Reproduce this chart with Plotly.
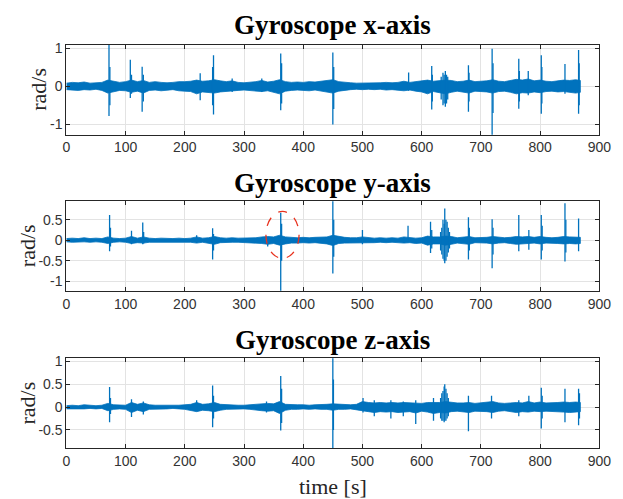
import plotly.graph_objects as go

# ---------------- data ----------------
env_t = list(range(0, 870, 10)) + [868]

gx_hi = [0.08,0.10,0.09,0.11,0.08,0.09,0.10,0.16,0.12,0.10,
         0.12,0.16,0.12,0.15,0.10,0.12,0.10,0.09,0.10,0.12,
         0.12,0.13,0.16,0.13,0.14,0.17,0.14,0.12,0.14,0.10,
         0.09,0.10,0.12,0.15,0.11,0.13,0.17,0.12,0.10,0.11,
         0.10,0.12,0.11,0.13,0.14,0.17,0.12,0.10,0.09,0.08,
         0.08,0.09,0.08,0.09,0.10,0.09,0.10,0.13,0.10,0.12,
         0.14,0.16,0.13,0.15,0.16,0.15,0.12,0.13,0.16,0.12,
         0.13,0.14,0.17,0.13,0.12,0.15,0.18,0.16,0.19,0.14,
         0.16,0.13,0.12,0.14,0.16,0.15,0.17,0.15]
gx_lo = [-0.09,-0.10,-0.11,-0.09,-0.10,-0.08,-0.11,-0.18,-0.14,-0.11,
         -0.12,-0.16,-0.13,-0.18,-0.11,-0.10,-0.12,-0.10,-0.09,-0.12,
         -0.13,-0.14,-0.20,-0.15,-0.16,-0.18,-0.15,-0.13,-0.12,-0.11,
         -0.10,-0.11,-0.13,-0.14,-0.12,-0.15,-0.20,-0.13,-0.11,-0.10,
         -0.11,-0.12,-0.10,-0.12,-0.15,-0.18,-0.13,-0.10,-0.09,-0.08,
         -0.09,-0.08,-0.09,-0.08,-0.10,-0.09,-0.11,-0.12,-0.10,-0.13,
         -0.15,-0.20,-0.14,-0.17,-0.20,-0.16,-0.13,-0.15,-0.18,-0.13,
         -0.14,-0.15,-0.18,-0.14,-0.13,-0.16,-0.20,-0.17,-0.18,-0.15,
         -0.17,-0.14,-0.13,-0.15,-0.14,-0.16,-0.18,-0.16]
gx_spike_t = [72, 73.5, 108, 110, 128, 130, 226, 247, 248.5, 280, 330, 362, 363.5, 450, 451.5, 578, 617, 618,
              633, 636, 638, 640, 642, 644,
              679, 680, 719, 720.5, 764, 765, 780, 802, 803, 842, 865, 866]
gx_spike_hi = [1.15, 0.5, 0.69, 0.3, 0.51, 0.3, 0.34, 0.5, 0.81, 0.2, 0.2, 0.86, 0.6, 0.88, 0.5, 0.36, 0.53, 0.3,
               0.25, 0.35, 0.3, 0.4, 0.3, 0.25,
               0.55, 0.35, 0.98, 0.6, 0.72, 0.4, 0.4, 0.81, 0.5, 0.58, 0.95, 0.6]
gx_spike_lo = [-0.78, -0.5, -0.31, -0.2, -0.67, -0.4, -0.37, -0.5, -0.74, -0.15, -0.15, -0.63, -0.45, -1.0, -0.6, -0.12, -0.61, -0.4,
               -0.35, -0.5, -0.45, -0.54, -0.45, -0.35,
               -0.67, -0.4, -1.3, -0.7, -0.59, -0.4, -0.24, -0.72, -0.45, -0.2, -0.72, -0.5]

gy_hi = [0.04,0.05,0.04,0.06,0.04,0.05,0.04,0.08,0.05,0.04,
         0.05,0.09,0.05,0.08,0.05,0.04,0.05,0.04,0.04,0.05,
         0.04,0.05,0.08,0.05,0.06,0.09,0.06,0.05,0.06,0.05,
         0.05,0.06,0.06,0.08,0.09,0.08,0.12,0.08,0.07,0.06,
         0.07,0.06,0.07,0.08,0.08,0.12,0.09,0.07,0.06,0.06,
         0.08,0.06,0.05,0.06,0.05,0.06,0.05,0.08,0.06,0.05,
         0.06,0.10,0.08,0.08,0.10,0.09,0.06,0.07,0.09,0.06,
         0.06,0.07,0.09,0.07,0.06,0.07,0.09,0.08,0.09,0.07,
         0.09,0.07,0.06,0.07,0.09,0.08,0.08,0.07]
gy_lo = [-0.04,-0.05,-0.05,-0.04,-0.05,-0.04,-0.05,-0.08,-0.05,-0.04,
         -0.05,-0.08,-0.06,-0.07,-0.05,-0.04,-0.04,-0.05,-0.04,-0.05,
         -0.05,-0.05,-0.07,-0.05,-0.07,-0.10,-0.06,-0.05,-0.05,-0.05,
         -0.05,-0.06,-0.07,-0.08,-0.10,-0.08,-0.12,-0.09,-0.07,-0.07,
         -0.06,-0.07,-0.06,-0.07,-0.09,-0.13,-0.08,-0.07,-0.06,-0.07,
         -0.07,-0.06,-0.06,-0.05,-0.06,-0.05,-0.06,-0.07,-0.06,-0.08,
         -0.07,-0.12,-0.09,-0.09,-0.12,-0.10,-0.07,-0.08,-0.10,-0.06,
         -0.07,-0.07,-0.09,-0.07,-0.06,-0.08,-0.10,-0.09,-0.08,-0.07,
         -0.09,-0.07,-0.07,-0.08,-0.09,-0.08,-0.09,-0.08]
gy_spike_t = [73, 74.5, 110, 129, 130.5, 220, 247, 248.5, 340, 362, 363.5, 450, 451.5, 500, 577, 615, 617,
              632, 634, 636, 638, 639, 641, 643, 645, 647,
              679, 680.5, 719, 720.5, 764, 781, 802, 803.5, 842, 843.5, 865]
gy_spike_hi = [0.61, 0.3, 0.23, 0.43, 0.2, 0.12, 0.29, 0.15, 0.08, 0.67, 0.4, 0.95, 0.5, 0.25, 0.35, 0.45, 0.25,
               0.2, 0.3, 0.5, 0.4, 0.77, 0.5, 0.45, 0.3, 0.2,
               0.56, 0.3, 0.51, 0.3, 0.61, 0.25, 0.61, 0.35, 0.9, 0.5, 0.53]
gy_spike_lo = [-0.27, -0.15, -0.1, -0.1, -0.08, -0.06, -0.47, -0.25, -0.15, -1.3, -0.5, -0.81, -0.4, -0.1, -0.05, -0.31, -0.2,
               -0.25, -0.35, -0.45, -0.5, -0.56, -0.5, -0.4, -0.3, -0.2,
               -0.47, -0.25, -0.68, -0.35, -0.27, -0.23, -0.47, -0.25, -0.52, -0.3, -0.27]

gz_hi = [0.03,0.04,0.03,0.05,0.04,0.03,0.04,0.08,0.05,0.04,
         0.04,0.10,0.06,0.09,0.05,0.04,0.04,0.03,0.04,0.04,
         0.05,0.06,0.10,0.06,0.07,0.10,0.06,0.05,0.05,0.04,
         0.04,0.05,0.05,0.07,0.08,0.07,0.12,0.06,0.05,0.05,
         0.05,0.04,0.05,0.05,0.06,0.07,0.06,0.05,0.05,0.06,
         0.12,0.10,0.09,0.10,0.09,0.10,0.09,0.10,0.09,0.09,
         0.08,0.10,0.10,0.10,0.12,0.10,0.09,0.09,0.10,0.08,
         0.09,0.10,0.12,0.09,0.08,0.09,0.10,0.09,0.12,0.09,
         0.11,0.09,0.09,0.10,0.11,0.10,0.11,0.10]
gz_lo = [-0.04,-0.03,-0.04,-0.04,-0.03,-0.04,-0.03,-0.08,-0.05,-0.04,
         -0.05,-0.12,-0.07,-0.10,-0.05,-0.04,-0.04,-0.04,-0.03,-0.04,
         -0.05,-0.07,-0.10,-0.07,-0.08,-0.10,-0.07,-0.05,-0.05,-0.04,
         -0.04,-0.05,-0.06,-0.08,-0.09,-0.08,-0.14,-0.07,-0.05,-0.05,
         -0.04,-0.05,-0.04,-0.05,-0.05,-0.07,-0.05,-0.05,-0.04,-0.05,
         -0.08,-0.10,-0.12,-0.10,-0.11,-0.10,-0.12,-0.11,-0.10,-0.13,
         -0.09,-0.11,-0.14,-0.12,-0.13,-0.10,-0.09,-0.11,-0.12,-0.09,
         -0.10,-0.10,-0.12,-0.09,-0.08,-0.10,-0.12,-0.10,-0.11,-0.09,
         -0.10,-0.09,-0.09,-0.10,-0.11,-0.12,-0.11,-0.10]
gz_spike_t = [73, 74.5, 110, 130, 220, 247, 248.5, 338, 362, 363.5, 450, 451, 501, 520, 548, 569, 590, 620,
              632, 634, 636, 638, 639, 641, 643, 645,
              679, 718, 764, 781, 802, 803.5, 842, 865, 866.5]
gz_spike_hi = [0.44, 0.2, 0.17, 0.12, 0.15, 0.47, 0.25, 0.12, 0.68, 0.4, 1.2, 0.6, 0.2, 0.15, 0.15, 0.12, 0.15, 0.2,
               0.2, 0.3, 0.35, 0.45, 0.5, 0.4, 0.3, 0.2,
               0.25, 0.25, 0.15, 0.25, 0.42, 0.25, 0.4, 0.4, 0.3]
gz_spike_lo = [-0.33, -0.15, -0.22, -0.16, -0.08, -0.44, -0.25, -0.12, -0.51, -0.35, -1.0, -0.5, -0.12, -0.2, -0.25, -0.2, -0.37, -0.3,
               -0.25, -0.3, -0.3, -0.33, -0.3, -0.3, -0.25, -0.2,
               -0.53, -0.25, -0.2, -0.1, -0.47, -0.25, -0.33, -0.4, -0.25]

titles = ["Gyroscope x-axis", "Gyroscope y-axis", "Gyroscope z-axis"]
x_ticks = [0, 100, 200, 300, 400, 500, 600, 700, 800, 900]
y_ticks = [[-1, 0, 1], [-1, -0.5, 0, 0.5], [-0.5, 0, 0.5, 1]]
y_tick_text = [["-1", "0", "1"], ["-1", "-0.5", "0", "0.5"], ["-0.5", "0", "0.5", "1"]]
y_ranges = [[-1.27, 1.09], [-1.23, 0.96], [-0.9, 1.07]]

# ---------------- figure ----------------
W, H = 623, 499
BLUE = "#0072BD"
AX = "#262626"
GRID = "#e3e3e3"

def py(p):  # pixel (from top) -> paper fraction
    return 1 - p / H

x_dom = [64 / W, 611 / W]
y_doms = [[py(131), py(40)], [py(288.7), py(197.7)], [py(447.7), py(356.7)]]
title_y = [20, 180, 338]
ylab_x = [36, 24, 24]

fig = go.Figure()
series = [(gx_hi, gx_lo, gx_spike_t, gx_spike_hi, gx_spike_lo),
          (gy_hi, gy_lo, gy_spike_t, gy_spike_hi, gy_spike_lo),
          (gz_hi, gz_lo, gz_spike_t, gz_spike_hi, gz_spike_lo)]

for i, (hi, lo, st, sh, sl) in enumerate(series):
    xa = "x" if i == 0 else f"x{i+1}"
    ya = "y" if i == 0 else f"y{i+1}"
    fig.add_trace(go.Scatter(
        x=env_t + env_t[::-1], y=hi + lo[::-1], fill="toself", fillcolor=BLUE,
        mode="lines", line=dict(color=BLUE, width=0.8), xaxis=xa, yaxis=ya,
        showlegend=False, hoverinfo="skip"))
    sx, sy = [], []
    for t, h, l in zip(st, sh, sl):
        sx += [t, t, None]
        sy += [h, l, None]
    fig.add_trace(go.Scatter(
        x=sx, y=sy, mode="lines", line=dict(color=BLUE, width=1.3),
        xaxis=xa, yaxis=ya, showlegend=False, hoverinfo="skip"))

axis_common = dict(showline=True, linecolor=AX, linewidth=1, mirror="ticks",
                   ticks="inside", ticklen=4, tickcolor=AX, tickwidth=1,
                   showgrid=True, gridcolor=GRID, gridwidth=1, zeroline=False,
                   tickfont=dict(family="Liberation Sans, Arial", size=14, color="#333333"))

layout = dict(width=W, height=H, margin=dict(l=0, r=0, t=0, b=0),
              paper_bgcolor="white", plot_bgcolor="white", showlegend=False)
for i in range(3):
    xk = "xaxis" if i == 0 else f"xaxis{i+1}"
    yk = "yaxis" if i == 0 else f"yaxis{i+1}"
    layout[xk] = dict(domain=x_dom, range=[0, 900], tickvals=x_ticks,
                      anchor="y" if i == 0 else f"y{i+1}", **axis_common)
    layout[yk] = dict(domain=y_doms[i], range=y_ranges[i], tickvals=y_ticks[i],
                      ticktext=y_tick_text[i], anchor="x" if i == 0 else f"x{i+1}",
                      **axis_common)
fig.update_layout(**layout)

ann = []
for i in range(3):
    ann.append(dict(text="<b>" + titles[i] + "</b>", xref="paper", yref="paper",
                    x=(64 + 611) / 2 / W, y=py(title_y[i]), xanchor="center", yanchor="middle",
                    showarrow=False, font=dict(family="Liberation Serif, Times New Roman", size=27, color="black")))
    ann.append(dict(text="rad/s", xref="paper", yref="paper", x=ylab_x[i] / W,
                    y=(y_doms[i][0] + y_doms[i][1]) / 2, xanchor="center", yanchor="middle",
                    textangle=-90, showarrow=False,
                    font=dict(family="Liberation Serif, Times New Roman", size=22, color="#262626")))
ann.append(dict(text="time [s]", xref="paper", yref="paper", x=(64 + 611) / 2 / W, y=py(486),
                xanchor="center", yanchor="middle", showarrow=False,
                font=dict(family="Liberation Serif, Times New Roman", size=22, color="#262626")))
fig.update_layout(annotations=ann)

fig.add_shape(type="circle", xref="x2", yref="y2", x0=337, x1=393, y0=-0.44, y1=0.70,
              line=dict(color="#e8321e", width=1.3, dash="dash"))

fig.write_html("out.html")
